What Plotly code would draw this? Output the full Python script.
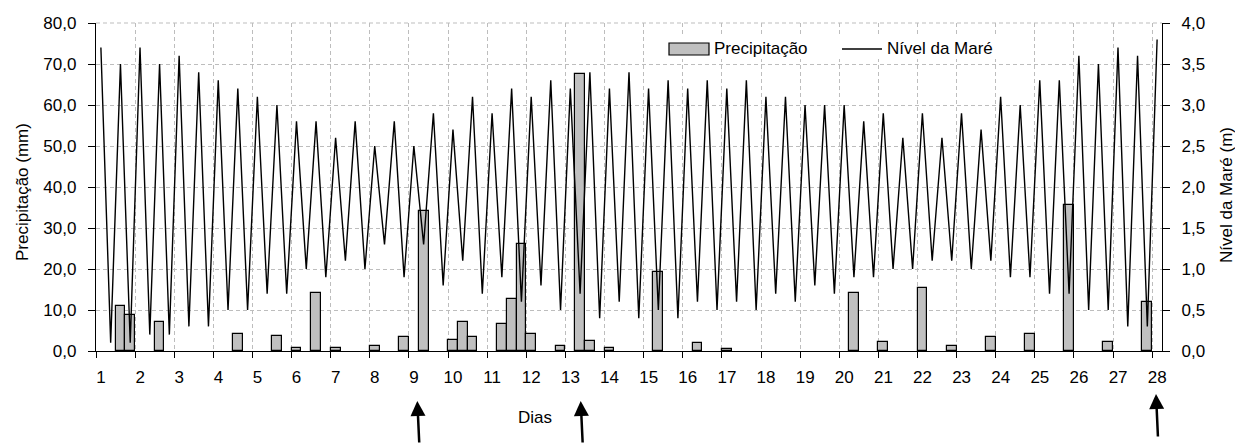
import plotly.graph_objects as go

# 6-hourly steps, 4 per day, from day 1 to day 28
tide_m = [3.7, 0.1, 3.5, 0.1, 3.7, 0.2, 3.5, 0.2, 3.6, 0.3, 3.4, 0.3, 3.3, 0.5, 3.2, 0.5,
          3.1, 0.7, 3.0, 0.7, 2.8, 1.0, 2.8, 0.9, 2.6, 1.1, 2.8, 1.0, 2.5, 1.3, 2.8, 0.9,
          2.5, 1.3, 2.9, 0.8, 2.7, 1.1, 3.1, 0.7, 2.9, 0.9, 3.2, 0.6, 3.1, 0.8, 3.3, 0.5,
          3.2, 0.7, 3.4, 0.4, 3.2, 0.6, 3.4, 0.4, 3.2, 0.5, 3.3, 0.4, 3.2, 0.6, 3.3, 0.5,
          3.2, 0.6, 3.3, 0.5, 3.1, 0.7, 3.1, 0.6, 3.0, 0.8, 3.0, 0.7, 3.0, 0.9, 2.8, 0.9,
          2.9, 1.0, 2.6, 1.0, 2.9, 1.1, 2.6, 1.1, 2.9, 1.0, 2.7, 1.1, 3.1, 0.9, 3.0, 0.9,
          3.3, 0.7, 3.3, 0.7, 3.6, 0.5, 3.5, 0.5, 3.7, 0.3, 3.6, 0.3, 3.8]

precip_mm = [0, 0, 10.9, 8.7, 0, 0, 7.1, 0, 0, 0, 0, 0, 0, 0, 4.1, 0,
             0, 0, 3.7, 0, 0.8, 0, 14.2, 0, 0.8, 0, 0, 0, 1.1, 0, 0, 3.3,
             0, 34.1, 0, 0, 2.7, 7.1, 3.3, 0, 0, 6.7, 12.8, 26.2, 4.1, 0, 0, 1.1,
             0, 67.5, 2.5, 0, 0.7, 0, 0, 0, 0, 19.3, 0, 0, 0, 1.9, 0, 0,
             0.4, 0, 0, 0, 0, 0, 0, 0, 0, 0, 0, 0, 0, 14.2, 0, 0,
             2.3, 0, 0, 0, 15.3, 0, 0, 1.1, 0, 0, 0, 3.3, 0, 0, 0, 4.1,
             0, 0, 0, 35.6, 0, 0, 0, 2.3, 0, 0, 0, 12.0, 0]

day_labels = [str(d) for d in range(1, 29)]

# time axis in days (category index -> day)
t = [1 + i / 4 for i in range(len(tide_m))]
tick_pos = [0.875 + k for k in range(len(day_labels))]

FONT = "Liberation Sans, Arial, sans-serif"
GRID = "#BDBDBD"

fig = go.Figure()
fig.add_bar(x=t, y=[v if v > 0 else None for v in precip_mm], width=0.25,
            marker=dict(color="#C0C0C0", line=dict(color="black", width=1.2)),
            name="Precipitação", showlegend=False, yaxis="y")
fig.add_scatter(x=t, y=tide_m, mode="lines", line=dict(color="black", width=1.4),
                name="Nível da Maré", showlegend=False, yaxis="y2")

X0, X1 = 0.875, 28.125

fig.update_layout(
    width=1235, height=444,
    margin=dict(l=96, r=73, t=23, b=93),
    paper_bgcolor="white", plot_bgcolor="white",
    separators=",.",
    font=dict(family=FONT, size=17, color="black"),
    bargap=0,
    xaxis=dict(range=[X0, X1], tickmode="array", tickvals=tick_pos, ticktext=day_labels,
               ticks="outside", ticklen=6, tickwidth=1.2, tickcolor="black",
               showline=True, linecolor="black", linewidth=1.3,
               showgrid=True, gridcolor=GRID, griddash="4px,3px", gridwidth=1,
               zeroline=False, ticklabelshift=5, ticklabelstandoff=4),
    xaxis2=dict(range=[X0, X1], overlaying="x", anchor="y", side="bottom",
                tickmode="array", tickvals=tick_pos, ticks="inside", ticklen=6,
                tickwidth=1.2, tickcolor="black", showticklabels=False,
                showgrid=False, showline=False, zeroline=False),
    yaxis=dict(range=[0, 80], tickmode="linear", tick0=0, dtick=10, tickformat=".1f",
               ticks="outside", ticklen=7, tickwidth=1.2, tickcolor="black",
               showline=True, linecolor="black", linewidth=1.3,
               showgrid=True, gridcolor=GRID, griddash="4px,3px", gridwidth=1,
               zeroline=False, ticklabelstandoff=8),
    yaxis2=dict(range=[0, 4], overlaying="y", side="right", anchor="x",
                tickmode="linear", tick0=0, dtick=0.5, tickformat=".1f",
                ticks="outside", ticklen=7, tickwidth=1.2, tickcolor="black",
                showline=True, linecolor="black", linewidth=1.3,
                showgrid=False, zeroline=False, ticklabelstandoff=8),
)

def px_x(p):
    return (p - 96) / 1066

def px_y(p):
    return (351 - p) / 328

shapes = [
    # top gridline at 80,0
    dict(type="line", xref="paper", yref="paper", x0=0, x1=1, y0=1, y1=1,
         line=dict(color=GRID, width=1, dash="4px,3px"), layer="below"),
    # legend background
    dict(type="rect", xref="paper", yref="paper", x0=px_x(662), x1=px_x(1004),
         y0=px_y(59), y1=px_y(37), fillcolor="white", line=dict(width=0), layer="above"),
    dict(type="rect", xref="paper", yref="paper", x0=px_x(669), x1=px_x(709),
         y0=px_y(55), y1=px_y(43), fillcolor="#C0C0C0",
         line=dict(color="black", width=1.2), layer="above"),
    dict(type="line", xref="paper", yref="paper", x0=px_x(842), x1=px_x(882),
         y0=px_y(49), y1=px_y(49), line=dict(color="black", width=1.4), layer="above"),
]

annotations = [
    dict(text="Precipitação", xref="paper", yref="paper", x=px_x(712), y=px_y(49),
         xanchor="left", yanchor="middle", showarrow=False),
    dict(text="Nível da Maré", xref="paper", yref="paper", x=px_x(885), y=px_y(49),
         xanchor="left", yanchor="middle", showarrow=False),
    dict(text="Precipitação (mm)", xref="paper", yref="paper", x=px_x(22), y=px_y(192),
         xanchor="center", yanchor="middle", textangle=-90, showarrow=False),
    dict(text="Nível da Maré (m)", xref="paper", yref="paper", x=px_x(1226), y=px_y(195),
         xanchor="center", yanchor="middle", textangle=-90, showarrow=False),
    dict(text="Dias", xref="paper", yref="paper", x=px_x(535), y=px_y(417),
         xanchor="center", yanchor="middle", showarrow=False),
]

for tip_x, tip_y, ay in [(417.3, 401, 45), (580.7, 401, 45), (1156, 394, 44)]:
    annotations.append(dict(text="", xref="paper", yref="paper", x=px_x(tip_x), y=px_y(tip_y),
                            ax=2, ay=ay, showarrow=True, arrowhead=2, arrowsize=1.2,
                            arrowwidth=2.5, arrowcolor="black", standoff=0))

fig.update_layout(shapes=shapes, annotations=annotations)

fig.write_html("out.html")
